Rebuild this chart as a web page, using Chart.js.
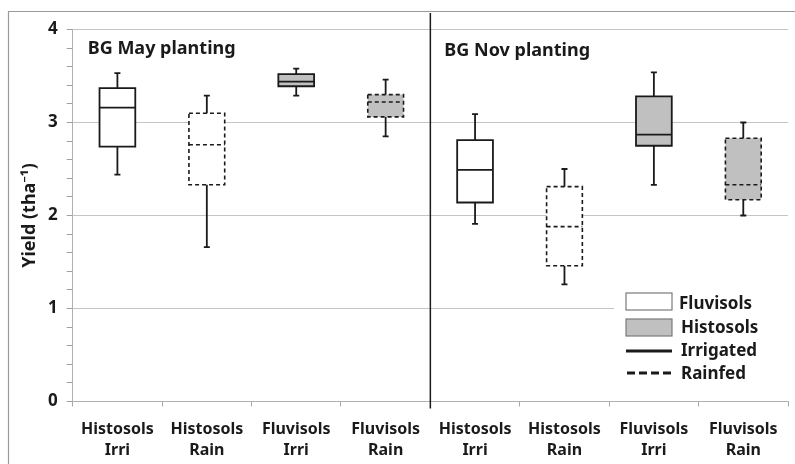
<!DOCTYPE html>
<html>
<head>
<meta charset="utf-8">
<script src="https://cdn.jsdelivr.net/npm/chart.js@4"></script>
<style>
html,body{margin:0;padding:0;background:#fff;}
#wrap{width:795px;height:464px;position:relative;}
</style>
</head>
<body>
<div id="wrap"><canvas id="c" width="795" height="464"></canvas></div>
<script>
const categories = [
  ["Histosols","Irri"],["Histosols","Rain"],["Fluvisols","Irri"],["Fluvisols","Rain"],
  ["Histosols","Irri"],["Histosols","Rain"],["Fluvisols","Irri"],["Fluvisols","Rain"]
];
const whiskerLow  = [2.44, 1.66, 3.29, 2.85, 1.91, 1.26, 2.33, 2.00];
const q1          = [2.74, 2.33, 3.39, 3.06, 2.14, 1.46, 2.75, 2.17];
const median      = [3.16, 2.76, 3.44, 3.22, 2.49, 1.88, 2.87, 2.33];
const q3          = [3.37, 3.10, 3.52, 3.30, 2.81, 2.31, 3.28, 2.83];
const whiskerHigh = [3.53, 3.29, 3.58, 3.46, 3.09, 2.50, 3.54, 3.00];
const rainfed     = [false, true, false, true, false, true, false, true];
const shaded      = [false, false, true, true, false, false, true, true];
const panelTitles = ["BG May planting", "BG Nov planting"];
const legendItems = ["Fluvisols", "Histosols", "Irrigated", "Rainfed"];
const yTitle = "Yield (tha\u207B\u00B9)";

const FONT = "'Noto Sans', sans-serif";
const INK = '#1a1a1a';
const GRAY_FILL = '#c0c0c0';
Chart.defaults.font.family = FONT;

const boxPlugin = {
  id: 'boxes',
  afterDatasetsDraw(chart) {
    const ctx = chart.ctx;
    const y = chart.scales.y;
    const meta = chart.getDatasetMeta(0);
    meta.data.forEach((el, i) => {
      const x = el.x, hw = el.width / 2;
      const top = y.getPixelForValue(q3[i]);
      const bot = y.getPixelForValue(q1[i]);
      const med = y.getPixelForValue(median[i]);
      const wh = y.getPixelForValue(whiskerHigh[i]);
      const wl = y.getPixelForValue(whiskerLow[i]);
      ctx.save();
      ctx.strokeStyle = INK;
      ctx.lineWidth = 1.8;
      ctx.setLineDash([]);
      ctx.beginPath();
      ctx.moveTo(x, top); ctx.lineTo(x, wh);
      ctx.moveTo(x - 3, wh); ctx.lineTo(x + 3, wh);
      ctx.moveTo(x, bot); ctx.lineTo(x, wl);
      ctx.moveTo(x - 3, wl); ctx.lineTo(x + 3, wl);
      ctx.stroke();
      ctx.setLineDash(rainfed[i] ? [4, 3] : []);
      ctx.lineWidth = rainfed[i] ? 1.6 : 1.8;
      ctx.beginPath();
      ctx.rect(x - hw, top, hw * 2, bot - top);
      ctx.moveTo(x - hw, med); ctx.lineTo(x + hw, med);
      ctx.stroke();
      ctx.restore();
    });
  },
  afterDraw(chart) {
    const ctx = chart.ctx;
    const xs = chart.scales.x, ys = chart.scales.y;
    const area = chart.chartArea;
    ctx.save();
    ctx.strokeStyle = '#9a9a9a';
    ctx.lineWidth = 1.2;
    ctx.beginPath();
    ctx.moveTo(8.5, 470); ctx.lineTo(8.5, 11.5); ctx.lineTo(800, 11.5);
    ctx.stroke();
    const divX = (xs.getPixelForValue(3) + xs.getPixelForValue(4)) / 2;
    ctx.strokeStyle = INK;
    ctx.lineWidth = 1.5;
    ctx.beginPath();
    ctx.moveTo(divX, 13); ctx.lineTo(divX, area.bottom + 7);
    ctx.stroke();
    ctx.fillStyle = INK;
    ctx.font = "bold 18px " + FONT;
    ctx.textBaseline = 'middle';
    ctx.textAlign = 'left';
    const left0 = xs.getPixelForValue(0) - (xs.getPixelForValue(1) - xs.getPixelForValue(0)) / 2;
    ctx.fillText(panelTitles[0], left0 + 15, ys.getPixelForValue(3.79));
    ctx.fillText(panelTitles[1], divX + 14, ys.getPixelForValue(3.77));
    const lx = 626, ly = 293;
    ctx.fillStyle = '#fff';
    ctx.fillRect(614, 286, area.right - 614, 104);
    ctx.lineWidth = 1.2;
    ctx.strokeStyle = '#7a7a7a';
    ctx.fillStyle = '#fff';
    ctx.fillRect(lx, ly, 46, 17); ctx.strokeRect(lx, ly, 46, 17);
    ctx.fillStyle = GRAY_FILL;
    ctx.fillRect(lx, ly + 26, 46, 17); ctx.strokeRect(lx, ly + 26, 46, 17);
    ctx.strokeStyle = INK;
    ctx.lineWidth = 3;
    ctx.beginPath(); ctx.moveTo(lx, 351); ctx.lineTo(lx + 46, 351); ctx.stroke();
    ctx.setLineDash([8, 4]);
    ctx.beginPath(); ctx.moveTo(lx + 1, 373); ctx.lineTo(lx + 46, 373); ctx.stroke();
    ctx.setLineDash([]);
    ctx.fillStyle = INK;
    ctx.font = "bold 17px " + FONT;
    const ty = [304, 328, 351, 374];
    legendItems.forEach((t, k) => ctx.fillText(t, k === 0 ? 679 : 681, ty[k]));
    ctx.restore();
  }
};

new Chart(document.getElementById('c'), {
  type: 'bar',
  data: {
    labels: categories,
    datasets: [{
      data: q1.map((v, i) => [v, q3[i]]),
      backgroundColor: shaded.map(s => s ? GRAY_FILL : '#ffffff'),
      borderWidth: 0,
      barPercentage: 0.4,
      categoryPercentage: 1.0
    }]
  },
  options: {
    responsive: false,
    animation: false,
    layout: { padding: { top: 29.5, right: 7, left: 0, bottom: 0 } },
    plugins: { legend: { display: false }, tooltip: { enabled: false } },
    scales: {
      x: {
        grid: { offset: true, drawOnChartArea: false, tickLength: 5, tickColor: '#a8a8a8' },
        border: { color: '#b0b0b0' },
        ticks: { color: INK, font: { size: 16, weight: 'bold', lineHeight: 1.3 }, padding: 13, maxRotation: 0 },
        afterFit: s => { s.height = 62.5; }
      },
      y: {
        min: 0, max: 4,
        ticks: {
          stepSize: 0.2, autoSkip: false, color: INK, padding: 9,
          font: { size: 17, weight: 'bold' },
          callback: v => Math.abs(v - Math.round(v)) < 1e-6 ? String(Math.round(v)) : ''
        },
        grid: {
          color: c => (c.tick && Math.abs(c.tick.value - Math.round(c.tick.value)) < 1e-6) ? '#c4c4c4' : 'rgba(0,0,0,0)',
          tickColor: '#a0a0a0', tickLength: 6
        },
        border: { color: '#b0b0b0' },
        title: { display: true, text: yTitle, color: INK, font: { size: 18, weight: 'bold' }, padding: { top: 19, bottom: 0 } },
        afterFit: s => { s.width = 72.7; }
      }
    }
  },
  plugins: [boxPlugin]
});
</script>
</body>
</html>
